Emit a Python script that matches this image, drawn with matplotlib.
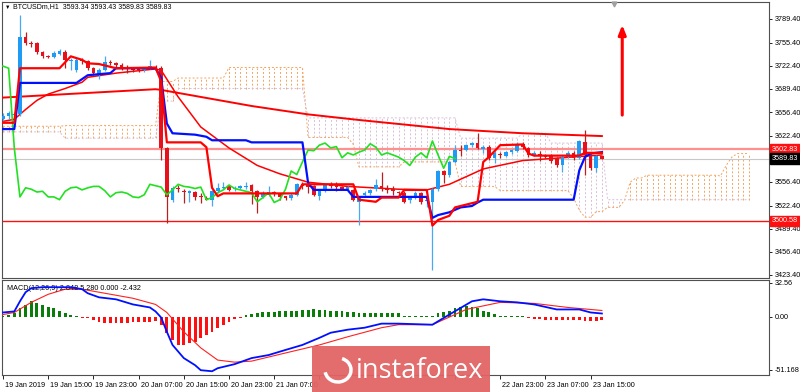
import numpy as np
import matplotlib
matplotlib.use("Agg")
import matplotlib.pyplot as plt
from matplotlib.patches import Rectangle, Arc
from matplotlib.transforms import blended_transform_factory, ScaledTranslation

plt.rcParams['font.family'] = ['Liberation Sans', 'DejaVu Sans']

# H1 candles, first bar 19 Jan 2019 07:00
opens = [3647, 3650, 3652, 3654, 3764, 3755, 3755, 3742, 3736, 3735,
         3740, 3742, 3729, 3716, 3731, 3729, 3719, 3711, 3717, 3728,
         3726, 3723, 3721, 3719, 3717, 3716, 3719, 3721, 3719, 3605,
         3531, 3548, 3544, 3541, 3542, 3536, 3534, 3531, 3543, 3548,
         3550, 3546, 3548, 3549, 3552, 3544, 3535, 3538, 3542, 3540,
         3536, 3533, 3538, 3553, 3552, 3550, 3536, 3545, 3553, 3551,
         3549, 3547, 3545, 3528, 3538, 3540, 3546, 3550, 3546, 3547,
         3542, 3541, 3530, 3534, 3540, 3529, 3528, 3546, 3572, 3567,
         3585, 3602, 3602, 3609, 3612, 3603, 3607, 3590, 3597, 3594,
         3599, 3601, 3611, 3605, 3595, 3597, 3595, 3594, 3590, 3581,
         3592, 3598, 3591, 3613, 3594, 3576, 3593.34]
closes = [3651, 3655, 3654, 3764, 3755, 3753, 3742, 3736, 3735, 3741,
          3743, 3731, 3731, 3731, 3729, 3719, 3712, 3717, 3728, 3726,
          3723, 3721, 3719, 3717, 3716, 3719, 3722, 3719, 3605, 3535,
          3548, 3546, 3542, 3543, 3535, 3535, 3531, 3543, 3548, 3549,
          3545, 3548, 3550, 3550, 3544, 3535, 3541, 3542, 3540, 3535,
          3534, 3538, 3553, 3551, 3549, 3538, 3545, 3553, 3550, 3549,
          3547, 3549, 3531, 3534, 3541, 3545, 3552, 3547, 3545, 3543,
          3541, 3528, 3534, 3541, 3527, 3531, 3546, 3572, 3567, 3585,
          3602, 3601, 3609, 3612, 3605, 3607, 3591, 3598, 3595, 3599,
          3602, 3611, 3606, 3595, 3598, 3595, 3592, 3587, 3580, 3592,
          3598, 3591, 3615, 3595, 3576, 3593, 3589.83]
highs = [3655, 3658, 3657, 3795, 3771, 3758, 3756, 3743, 3738, 3743,
         3746, 3745, 3733, 3733, 3733, 3731, 3721, 3719, 3736, 3731,
         3728, 3726, 3723, 3721, 3719, 3721, 3731, 3724, 3722, 3606,
         3550, 3552, 3547, 3545, 3544, 3540, 3536, 3545, 3555, 3557,
         3552, 3551, 3552, 3557, 3554, 3545, 3543, 3550, 3544, 3541,
         3537, 3540, 3555, 3556, 3554, 3552, 3547, 3555, 3556, 3556,
         3550, 3551, 3546, 3536, 3544, 3547, 3560, 3571, 3552, 3550,
         3544, 3543, 3536, 3543, 3542, 3533, 3548, 3574, 3574, 3587,
         3609, 3609, 3611, 3613, 3627, 3609, 3609, 3600, 3599, 3601,
         3604, 3613, 3613, 3607, 3600, 3600, 3597, 3596, 3592, 3594,
         3600, 3600, 3617, 3631, 3596, 3595, 3593.43]
lows = [3644, 3647, 3650, 3650, 3752, 3750, 3740, 3734, 3733, 3733,
        3738, 3720, 3716, 3714, 3725, 3717, 3710, 3703, 3715, 3724,
        3721, 3717, 3712, 3714, 3713, 3714, 3718, 3716, 3588, 3498,
        3528, 3542, 3526, 3527, 3530, 3526, 3530, 3522, 3541, 3546,
        3543, 3544, 3546, 3547, 3525, 3512, 3533, 3536, 3537, 3530,
        3530, 3531, 3536, 3546, 3540, 3536, 3531, 3542, 3548, 3544,
        3545, 3545, 3529, 3495, 3536, 3538, 3544, 3544, 3540, 3538,
        3537, 3526, 3526, 3532, 3525, 3520, 3430, 3544, 3555, 3564,
        3583, 3594, 3600, 3606, 3603, 3598, 3588, 3584, 3590, 3592,
        3597, 3599, 3604, 3592, 3593, 3587, 3590, 3584, 3578, 3571,
        3590, 3588, 3589, 3566, 3573, 3571, 3589.83]

# every 8th bar; the middle ones sit under the watermark in the original
time_labels = ["19 Jan 2019", "19 Jan 15:00", "19 Jan 23:00", "20 Jan 07:00",
               "20 Jan 15:00", "20 Jan 23:00", "21 Jan 07:00", "21 Jan 15:00",
               "21 Jan 23:00", "22 Jan 07:00", "22 Jan 15:00", "22 Jan 23:00",
               "23 Jan 07:00", "23 Jan 15:00"]
hidden_labels = ["21 Jan 15:00", "21 Jan 23:00", "22 Jan 07:00", "22 Jan 15:00"]
price_ticks = [3789.40, 3755.40, 3722.40, 3689.40, 3656.40, 3622.40,
               3556.40, 3522.40, 3489.40, 3456.40, 3423.40]

# indicator lines as (bar, value) vertices
tenkan_bar = [0, 2, 3, 10, 12, 14, 15, 17, 20, 27, 28, 29, 35, 36, 37, 38, 39,
              52, 53, 62, 63, 66, 67, 70, 71, 75, 76, 77, 79, 80, 84, 85, 86,
              88, 92, 93, 94, 102, 103, 106]
tenkan_val = [3641, 3641, 3719, 3719, 3736, 3731, 3726, 3725, 3719, 3720, 3700,
              3613, 3613, 3606, 3548, 3536, 3540, 3540, 3553, 3553, 3531, 3528,
              3534, 3534, 3545, 3545, 3494, 3502, 3508, 3520, 3528, 3585, 3592,
              3609, 3610, 3597, 3594, 3594, 3598, 3598]
kijun_bar = [0, 2, 3, 13, 15, 19, 20, 27, 28, 29, 30, 34, 36, 37, 43, 44, 53,
             54, 55, 61, 62, 75, 76, 77, 79, 81, 83, 84, 85, 101, 102, 103, 104, 106]
kijun_val = [3632, 3632, 3698, 3698, 3709, 3712, 3719, 3719, 3705, 3640, 3626,
             3624, 3621, 3616, 3616, 3613, 3613, 3555, 3545, 3545, 3535, 3535,
             3505, 3509, 3513, 3520, 3522, 3527, 3531, 3531, 3573, 3592, 3597, 3599]
ema_bar = [0, 2, 4, 6, 8, 11, 14, 15, 20, 27, 28, 31, 35, 40, 45, 49, 54, 61,
           70, 75, 79, 85, 92, 106]
ema_val = [3643, 3646, 3660, 3673, 3682, 3690, 3699, 3706, 3712, 3718, 3716,
           3678, 3635, 3605, 3580, 3568, 3556, 3550, 3546, 3545, 3553, 3575,
           3587, 3595]
ma_bar = [0, 27, 28, 44, 54, 63, 79, 92, 106]
ma_val = [3677, 3689, 3688, 3665, 3653, 3645, 3632, 3626, 3622]

# kumo spans as runs: first bar of run and its level (runs go to bar 132)
span_a_start = [0, 11, 28, 31, 40, 54, 62, 63, 71, 81, 88, 101, 102, 103, 105,
                107, 110, 111, 112, 114, 127, 128, 129, 130]
span_a_level = [3636, 3637, 3700, 3705, 3720, 3620, 3610, 3578, 3585, 3550,
                3544, 3533, 3516, 3506, 3514, 3520, 3530, 3556, 3562, 3566,
                3565, 3580, 3592, 3597]
span_b_start = [0, 11, 28, 31, 54, 81, 92, 97, 107]
span_b_level = [3628, 3619, 3672, 3690, 3648, 3619, 3626, 3612, 3531]

bid_level = 3589.83
upper_level = 3602.83
lower_level = 3500.58
arrow_bar, arrow_from, arrow_to = 109.6, 3652, 3781

# MACD(12,26,9)
macd_bar = [0, 2, 3, 4, 5, 7, 12, 14, 15, 17, 20, 23, 26, 27, 28, 29, 30, 32,
            34, 35, 37, 38, 41, 44, 47, 50, 53, 56, 58, 61, 64, 67, 70, 76,
            79, 83, 85, 88, 91, 94, 98, 102, 104, 106]
macd_val = [3.9, 4.9, 14.6, 23.3, 27.2, 28.1, 28.1, 26.2, 22.3, 18.4, 16.5,
            11.6, 8.7, 4.9, -1, -14.6, -27.2, -39.8, -46.6, -51.4, -52.4, -49.5,
            -45.6, -39.8, -36.9, -32, -27.2, -20.4, -15.5, -12.6, -10.7, -6.8,
            -6.8, -7.8, 1.9, 14.6, 16.5, 14.6, 13.6, 11.6, 6.8, 6.8, 3.9, 2.9]
signal_bar = [0, 2, 5, 8, 11, 14, 17, 23, 27, 29, 32, 35, 38, 41, 44, 50, 56,
              61, 67, 70, 76, 82, 88, 94, 100, 106]
signal_val = [1.9, 3.9, 13.6, 21.3, 26.2, 26.2, 23.3, 17.5, 11.6, 3.9, -14.6,
              -30, -41.7, -43.7, -42.7, -34.9, -27.2, -19.4, -10.7, -7.8, -7.8,
              6.8, 13.6, 12.6, 8.7, 5.8]
hist = [0.5, 1.6, 3.2, 8, 11.3, 14.5, 13, 10.7, 9, 8,
        5.5, 3.2, 1.6, 0.6, -1, -1.6, -3.2, -4.8, -5.8, -5.8,
        -5.8, -5.8, -5.8, -5.5, -5.5, -4.8, -4.8, -4.2, -8, -16,
        -22.6, -27.5, -27.5, -25.8, -24.2, -21, -17.8, -14.5, -11.3, -8,
        -4.8, -2.6, -1, 1, 2.3, 3.2, 4.2, 4.8, 4.8, 5.5,
        5.5, 5.5, 5.5, 6.5, 6.5, 7.4, 6.5, 6.5, 5.5, 5.5,
        5.5, 4.8, 4.8, 3.2, 3.2, 3.2, 3.2, 3.2, 3.2, 3.2,
        3.2, 0.6, 0.6, 0.6, 0.6, 0.6, 0.6, 3.2, 4.2, 5.5,
        8, 9, 9.7, 9, 8, 5.5, 4.2, 2.3, 0.6, 0.6,
        0.6, 0.6, 0.6, -1.6, -2.6, -2.6, -3.2, -3.2, -3.2, -3.2,
        -3.2, -3.2, -3.2, -3.9, -3.9, -3.9, -3.2]

W, H = 800, 392
fs = 5.2


def px_rect(x0, y0, x1, y1):
    return [x0 / W, 1 - y1 / H, (x1 - x0) / W, (y1 - y0) / H]


fig = plt.figure(figsize=(W / 100, H / 100), dpi=100)
fig.patch.set_facecolor('white')
ax = fig.add_axes(px_rect(2, 2, 769, 278))
ax2 = fig.add_axes(px_rect(2, 280, 769, 375), sharex=ax)

n = len(opens)
idx = np.arange(n)
o, c, h, l = map(np.array, (opens, closes, highs, lows))
up = c >= o

# kumo
n_span = n + 26
span_a = np.repeat(span_a_level, np.diff(span_a_start + [n_span]))
span_b = np.repeat(span_b_level, np.diff(span_b_start + [n_span]))
sidx = np.arange(n_span)
kumo_up = span_a >= span_b
ax.vlines(sidx[kumo_up], span_b[kumo_up], span_a[kumo_up], color='#f4a460',
          lw=0.7, linestyles=(0, (2, 2)), zorder=1)
ax.vlines(sidx[~kumo_up], span_a[~kumo_up], span_b[~kumo_up], color='#d8bfd8',
          lw=0.7, linestyles=(0, (2, 2)), zorder=1)
ax.plot(sidx, span_a, color='#f4a460', lw=0.7, ls=(0, (2, 2)), zorder=1)
ax.plot(sidx, span_b, color='#d8bfd8', lw=0.7, ls=(0, (2, 2)), zorder=1)

# levels
ax.axhline(upper_level, color='#ff9090', lw=1.6, zorder=2)
ax.axhline(bid_level, color='#c8c8c8', lw=0.8, zorder=2)
ax.axhline(lower_level, color='#ff1010', lw=1.0, zorder=2)

# moving averages
ax.plot(ma_bar, ma_val, color='#ff0000', lw=1.4, zorder=3)
ax.plot(ema_bar, ema_val, color='#ff0000', lw=1.1, zorder=3)

# candles
ax.vlines(idx[up], l[up], h[up], color='#4aa8f0', lw=0.9, zorder=4)
ax.vlines(idx[~up], l[~up], h[~up], color='#b82020', lw=0.9, zorder=4)
body = np.maximum(np.abs(c - o), 1.3)
ax.bar(idx[up], body[up], bottom=np.minimum(o, c)[up], width=0.65,
       color='#1e9bf5', lw=0, zorder=5)
ax.bar(idx[~up], body[~up], bottom=np.minimum(o, c)[~up], width=0.65,
       color='#e8101a', lw=0, zorder=5)

# ichimoku lines
ax.plot(idx[:-26], c[26:], color='#22e022', lw=1.2, zorder=6)
ax.plot(kijun_bar, kijun_val, color='#0010ff', lw=1.6, zorder=6)
ax.plot(tenkan_bar, tenkan_val, color='#ff0000', lw=1.6, zorder=6)

ax.annotate('', xy=(arrow_bar, arrow_to), xytext=(arrow_bar, arrow_from),
            arrowprops=dict(arrowstyle='-|>,head_length=0.55,head_width=0.22',
                            color='#ff0000', lw=2.2, shrinkA=0, shrinkB=0),
            zorder=7)

x_lo = (2 - 3) / 5.65
x_hi = (769 - 3) / 5.65
ax.set_xlim(x_lo, x_hi)
ax.set_ylim(3789.4 - (278 - 19) * 1.43, 3789.4 + 17 * 1.43)

for a in (ax, ax2):
    for s in a.spines.values():
        s.set_color('#505050')
        s.set_linewidth(0.8)
    a.yaxis.tick_right()
    a.tick_params(axis='y', direction='out', length=2.5, width=0.6, pad=1.5,
                  labelsize=fs, colors='black')

ax.set_yticks(price_ticks)
ax.set_yticklabels([f"{v:.2f}" for v in price_ticks])
ax.tick_params(axis='x', bottom=False, labelbottom=False)

# price tags on the right scale
tr = blended_transform_factory(ax.transAxes, ax.transData)
for lvl, bg in ((upper_level, '#ff1010'), (bid_level, 'black'), (lower_level, '#ff1010')):
    ax.text(1.004, lvl, f"{lvl:.2f}", transform=tr, fontsize=fs, color='white',
            va='center', ha='left', zorder=8,
            bbox=dict(boxstyle='square,pad=0.25', fc=bg, ec=bg))

ax.plot([108.1], [0.992], marker='v', ms=3.5, color='#a0a0a0',
        transform=blended_transform_factory(ax.transData, ax.transAxes),
        clip_on=False, zorder=8)

fig.text(5 / W, 1 - 7 / H, "\u25bc", fontsize=4, va='center', ha='left')
fig.text(13 / W, 1 - 7 / H, "BTCUSDm,H1  3593.34 3593.43 3589.83 3589.83",
         fontsize=5, va='center', ha='left')

# MACD panel
ax2.bar(idx, hist, width=0.5,
        color=['#0a7d0a' if v > 0 else '#ff1010' for v in hist], lw=0, zorder=2)
ax2.plot(signal_bar, signal_val, color='#ff2020', lw=0.8, zorder=3)
ax2.plot(macd_bar, macd_val, color='#0010ff', lw=1.3, zorder=4)
ax2.set_ylim(-56, 35)
ax2.set_yticks([32.56, 0.0, -51.168])
ax2.set_yticklabels(['32.56', '0.00', '-51.168'])
ax2.text(5 / 767, 0.95, "MACD(12,26,9) 2.848 5.280 0.000 -2.432",
         transform=ax2.transAxes, fontsize=fs, va='top', ha='left')

ax2.set_xticks(idx[::8][:len(time_labels)])
ax2.set_xticklabels(["" if t in hidden_labels else t for t in time_labels])
ax2.tick_params(axis='x', direction='out', length=3, width=0.6, pad=2,
                labelsize=fs, colors='black')
shift = ScaledTranslation(2 / 100, 0, fig.dpi_scale_trans)
for lbl in ax2.get_xticklabels():
    lbl.set_ha('left')
    lbl.set_transform(lbl.get_transform() + shift)

# watermark
wm = Rectangle((312 / W, 0), 178 / W, 1 - 346 / H, transform=fig.transFigure,
               fc='#e26464', ec='none', alpha=0.95, zorder=20)
fig.patches.append(wm)
fig.patches.append(Arc((338 / W, 1 - 370 / H), 26 / W, 24 / H, theta1=200,
                       theta2=80, transform=fig.transFigure, color='white',
                       lw=2.5, zorder=21))
fig.text(356 / W, 1 - 371 / H, "instaforex", fontsize=19.5, color='white',
         family='Open Sans', va='center', ha='left', zorder=21)

fig.savefig('out.png', dpi=100, facecolor='white')
